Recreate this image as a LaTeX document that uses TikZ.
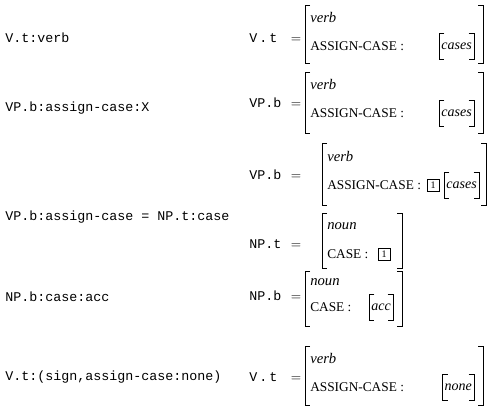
\documentclass[tikz,border=0pt]{standalone}
\usepackage{fontspec}
\setmainfont{Liberation Serif}
\setmonofont{Liberation Mono}
% square brackets round a feature matrix: left x, right x, top y, bottom y
\newcommand{\avmbrackets}[4]{%
  \draw[brk] (#1+5,#3) -- (#1,#3) -- (#1,#4) -- (#1+5,#4);
  \draw[brk] (#2-5,#3) -- (#2,#3) -- (#2,#4) -- (#2-5,#4);}
% square brackets hugging a value node
\newcommand{\valbrackets}[1]{%
  \draw[brk] ([xshift=4pt]#1.north west) -- (#1.north west) -- (#1.south west) -- ([xshift=4pt]#1.south west);
  \draw[brk] ([xshift=-4pt]#1.north east) -- (#1.north east) -- (#1.south east) -- ([xshift=-4pt]#1.south east);}
\newcommand{\eqlabel}[1]{\makebox[39pt]{\texttt{#1}\hfill$=$}}
\begin{document}
\begin{tikzpicture}[x=0.75pt,y=-0.75pt,
  lab/.style={anchor=west, inner sep=0pt, font=\ttfamily},
  eqn/.style={anchor=west, inner sep=0pt},
  feat/.style={anchor=west, inner sep=0pt, font=\fontsize{10}{12}\selectfont},
  typ/.style={anchor=west, inner sep=0pt, font=\fontsize{11}{13}\selectfont\itshape},
  val/.style={anchor=east, inner xsep=1.5pt, minimum height=19pt, font=\fontsize{10.5}{13}\selectfont\itshape},
  tag/.style={draw, line width=0.5pt, minimum size=9pt, inner sep=0pt, font=\fontsize{7.5}{8}\selectfont},
  brk/.style={line width=0.6pt}]
\useasboundingbox (0,0) rectangle (493,406);

% V.t:verb
\node[lab] (lab1) at (5,38) {V.t:verb};
\node[eqn] (eq1) at (249,38) {\eqlabel{V\kern1.5pt.\kern1.5pt t}};
\avmbrackets{305}{483}{5}{63}
\node[typ] (ty1) at (310,17) {verb};
\node[feat] (ft1) at (310,46) {ASSIGN-CASE~:};
\node[val] (va1) at (474,46) {cases};
\valbrackets{va1}

% VP.b:assign-case:X
\node[lab] (lab2) at (5,108) {VP.b:assign-case:X};
\node[eqn] (eq2) at (249,103) {\eqlabel{VP.b}};
\avmbrackets{305}{483}{72}{133}
\node[typ] (ty2) at (310,84) {verb};
\node[feat] (ft2) at (310,113) {ASSIGN-CASE~:};
\node[val] (va2) at (474,113) {cases};
\valbrackets{va2}

% VP.b:assign-case = NP.t:case
\node[lab] (lab3) at (5,217) {VP.b:assign-case = NP.t:case};
\node[eqn] (eq3) at (249,175) {\eqlabel{VP.b}};
\avmbrackets{322}{486}{143}{205}
\node[typ] (ty3) at (327,156) {verb};
\node[feat] (ft3) at (327,185) {ASSIGN-CASE~:};
\node[tag] (tg3) at (433,185) {1};
\node[val] (va3) at (479,185) {cases};
\valbrackets{va3}

\node[eqn] (eq4) at (249,244) {\eqlabel{NP.t}};
\avmbrackets{322}{402}{213}{268}
\node[typ] (ty4) at (327,226) {noun};
\node[feat] (ft4) at (327,254) {CASE~:};
\node[tag] (tg4) at (384,254) {1};

% NP.b:case:acc
\node[lab] (lab5) at (5,297) {NP.b:case:acc};
\node[eqn] (eq5) at (249,296) {\eqlabel{NP.b}};
\avmbrackets{305}{402}{271}{326}
\node[typ] (ty5) at (310,282) {noun};
\node[feat] (ft5) at (310,307) {CASE~:};
\node[val] (va5) at (393,307) {acc};
\valbrackets{va5}

% V.t:(sign,assign-case:none)
\node[lab] (lab6) at (5,377) {V.t:(sign,assign-case:none)};
\node[eqn] (eq6) at (249,377) {\eqlabel{V\kern1.5pt.\kern1.5pt t}};
\avmbrackets{305}{483}{346}{405}
\node[typ] (ty6) at (310,358) {verb};
\node[feat] (ft6) at (310,387) {ASSIGN-CASE~:};
\node[val] (va6) at (474,387) {none};
\valbrackets{va6}
\end{tikzpicture}
\end{document}
